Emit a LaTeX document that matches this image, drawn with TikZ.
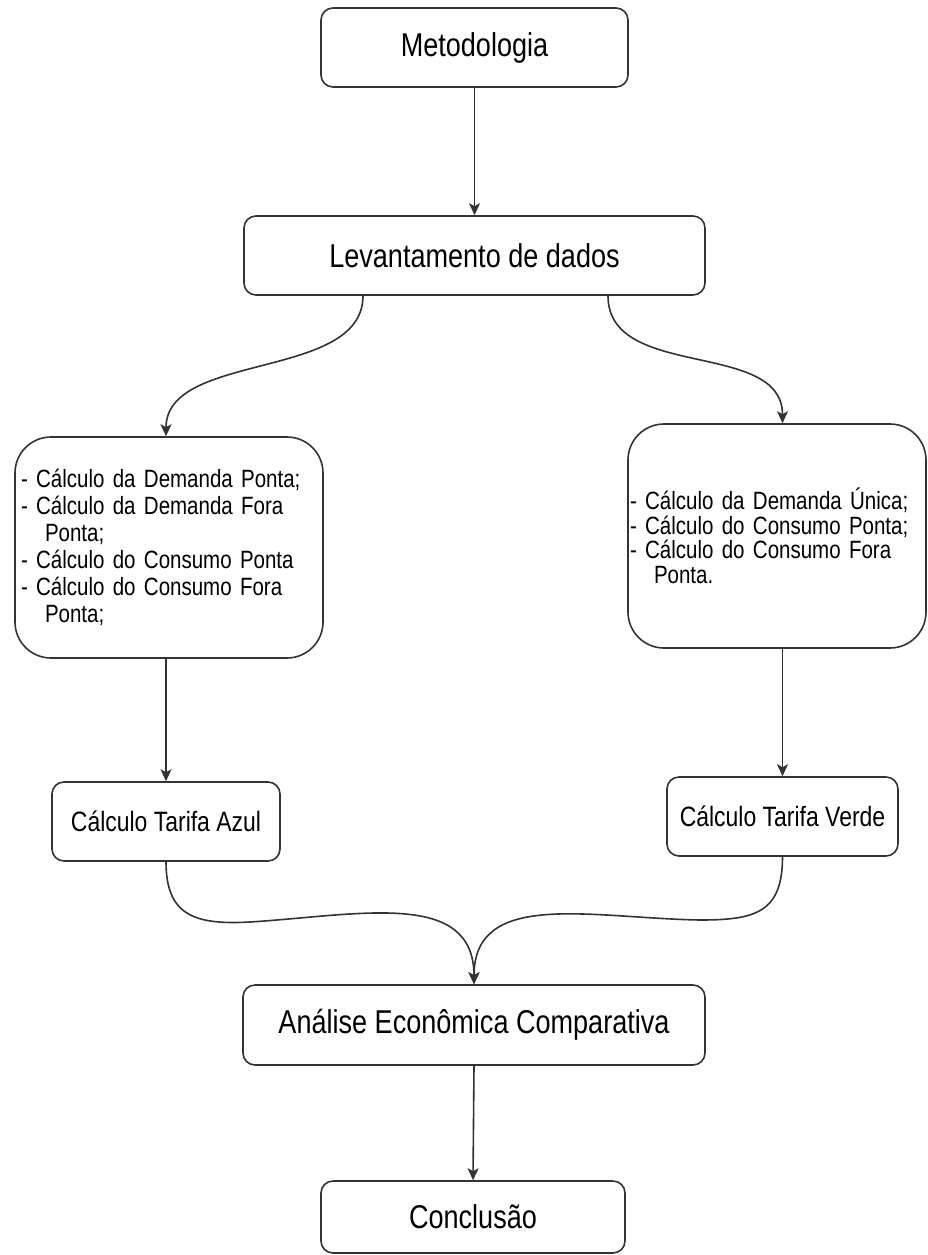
\documentclass[tikz,border=0pt]{standalone}
\usepackage{fontspec}
\setmainfont[FakeStretch=0.82]{Liberation Sans}
\usetikzlibrary{arrows.meta,calc}
\begin{document}
\begin{tikzpicture}[x=1pt,y=-1pt,
  box/.style={draw=black!80, line width=1.6pt, rounded corners=12pt, inner sep=0pt, align=center, fill=white},
  bigbox/.style={box, rounded corners=36pt, align=left},
  titlef/.style={font=\fontsize{33}{38}\selectfont},
  midf/.style={font=\fontsize{28}{32}\selectfont},
  conn/.style={draw=black!80, line width=1.6pt, -{Stealth[length=12pt,width=11pt,inset=3pt]}}]
\useasboundingbox (0,0) rectangle (927,1255);
\fill[white] (0,0) rectangle (927,1255);

\node[box, titlef, minimum width=307pt, minimum height=79pt] (met) at (474.5,47.5) {Metodologia};
\node[box, titlef, minimum width=461pt, minimum height=79pt] (lev) at (474.5,255.5) {Levantamento de dados};

\node[bigbox, minimum width=308pt, minimum height=221pt, text width=296pt,
      font=\fontsize{25}{27}\selectfont] (lbox) at (169,547.5)
  {- Cálculo da Demanda Ponta;\\
   - Cálculo da Demanda Fora\\
   \hspace*{24pt}Ponta;\\
   - Cálculo do Consumo Ponta\\
   - Cálculo do Consumo Fora\\
   \hspace*{24pt}Ponta;};

\node[bigbox, minimum width=298pt, minimum height=224pt, text width=294pt,
      font=\fontsize{25}{24.5}\selectfont] (rbox) at (777,536)
  {- Cálculo da Demanda Única;\\
   - Cálculo do Consumo Ponta;\\
   - Cálculo do Consumo Fora\\
   \hspace*{24pt}Ponta.\\[12pt]};

\node[box, midf, minimum width=228pt, minimum height=79pt] (azul) at (166,821.5) {Cálculo Tarifa Azul};
\node[box, midf, minimum width=231pt, minimum height=79pt] (verde) at (782.5,816.5) {Cálculo Tarifa Verde};

\node[box, titlef, minimum width=462pt, minimum height=80pt] (anl) at (474,1025) {Análise Econômica Comparativa};
\node[box, titlef, minimum width=304pt, minimum height=72pt] (con) at (473,1217) {Conclusão};

\coordinate (levL) at ($(lev.south)+(-111.5,0)$);
\coordinate (levR) at ($(lev.south)+(133.5,0)$);
\coordinate (waveL) at (250,922);
\coordinate (waveR) at (700,920);

\draw[conn] (met.south) -- (lev.north);
\draw[conn] (levL) .. controls +(0,85) and +(0,-85) .. (azul.north |- lbox.north);
\draw[conn] (levR) .. controls +(0,85) and +(0,-84) .. (verde.north |- rbox.north);
\draw[conn] (azul.north |- lbox.south) -- (azul.north);
\draw[conn] (verde.north |- rbox.south) -- (verde.north);
\draw[conn] (azul.south) .. controls +(0,54) and +(-55,3) .. (waveL)
            .. controls +(110,-7) and +(0,-95) .. (anl.north);
\draw[conn] (verde.south) .. controls +(0,56) and +(55,0) .. (waveR)
            .. controls +(-110,-2) and +(0,-95) .. (anl.north);
\draw[conn] (anl.south) -- (con.north);
\end{tikzpicture}
\end{document}
